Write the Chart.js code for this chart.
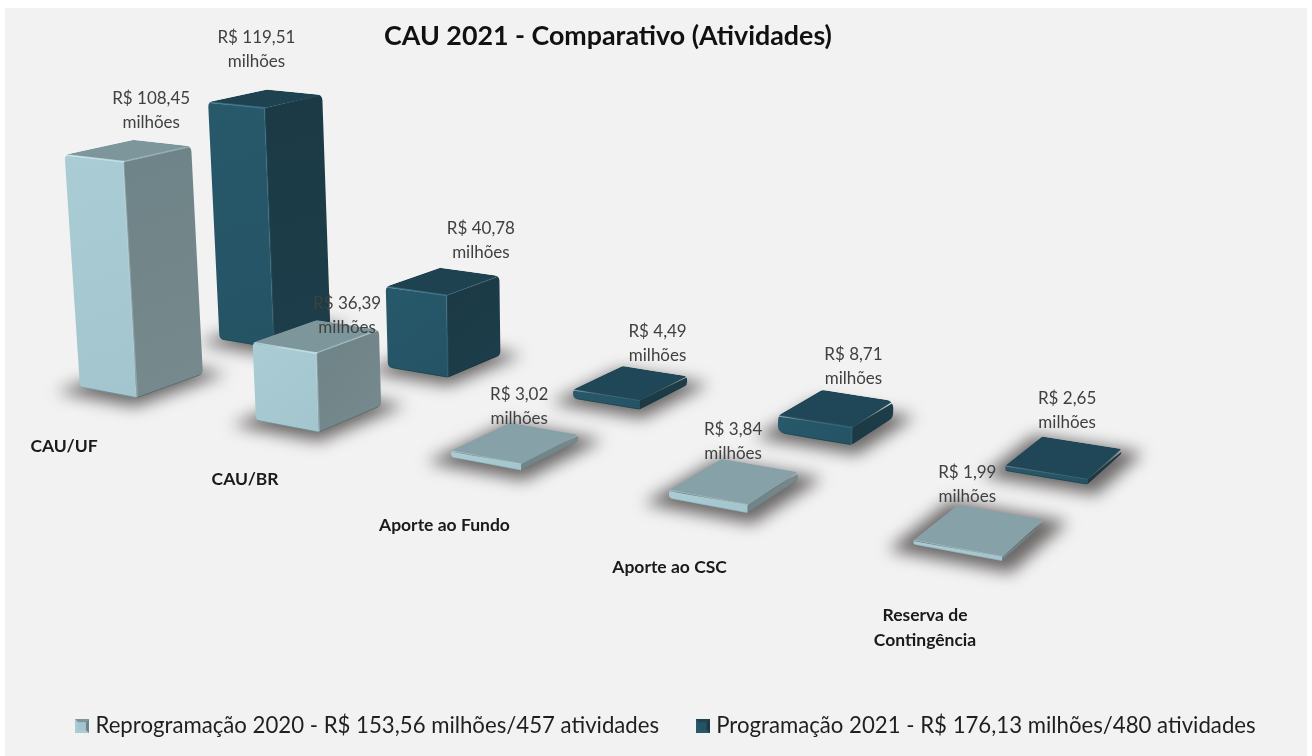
<!DOCTYPE html>
<html><head><meta charset="utf-8">
<style>html,body{margin:0;padding:0;background:#fff}canvas{display:block}</style>
<script src="https://cdn.jsdelivr.net/npm/chart.js@4/dist/chart.umd.min.js"></script>
</head><body>
<div style="width:1312px;height:756px"><canvas id="c" width="1312" height="756"></canvas></div>
<script>
// ---- data ----
const categories = ['CAU/UF', 'CAU/BR', 'Aporte ao Fundo', 'Aporte ao CSC', ['Reserva de', 'Contingência']];
const reprogramacao2020 = [108.45, 36.39, 3.02, 3.84, 1.99];
const programacao2021 = [119.51, 40.78, 4.49, 8.71, 2.65];
const legendLabels = ['Reprogramação 2020 - R$ 153,56 milhões/457 atividades', 'Programação 2021 - R$ 176,13 milhões/480 atividades'];
const titleText = 'CAU 2021 - Comparativo (Atividades)';

// ---- 3D look ----
const floorMatrix = {xp:664.6, xv:160.5, x0:137, yp:50.8, yv:-20, y0:398, wp:-0.2, wv:0.085};
const barLenU = 0.335, barLenV = 0.46;
const depthScale = [1.04, 0.96];
const vanishX = 600, vanishDist = 8000, topFlatten = 0.0015;
const palette = [
  {front:'#a9ccd5', frontLo:'#a2c5ce', side:'#6f8488', sideLo:'#76898d', top:'#7c969c', topThin:'#86a1a7', rim:'#c9e6ed', rimSide:0.3},
  {front:'#27596b', frontLo:'#245364', side:'#1b3a46', sideLo:'#1c3d49', top:'#1e4250', topThin:'#1f4757', rim:'#3b7387', rimSide:0.1}
];
const labelOffsets = [
  [[23,-52],[31,-33],[4,-49],[-1,-52],[-12,-58]],
  [[-9,-61],[38,-53],[27,-52],[17,-54],[3,-59]]
];
const catLabelOffsets = [[-73,48],[-74,47],[-77,55],[-78,54],[-77,67]];
const FONT = 'Lato';

const lastCat = categories.length-1;
const floorPt = (u,v)=>{
  const m=floorMatrix, p=u/lastCat, w=m.wp*p+m.wv*v+1;
  return [(m.xp*p+m.xv*v+m.x0)/w,(m.yp*p+m.yv*v+m.y0)/w];
};
function geometry(c,s,H){
  const v0=s, v1=s+barLenV, u1=c, u0=c-barLenU;
  const F=floorPt(u1,v0), L=floorPt(u0,v0), R=floorPt(u1,v1), B=floorPt(u0,v1);
  const flat=1-topFlatten*H;
  const up=p=>[p[0]+(p[0]-vanishX)*H/vanishDist, F[1]-H+(p[1]-F[1])*flat];
  return {F,L,R,B,Ft:up(F),Lt:up(L),Rt:up(R),Bt:up(B)};
}
function poly(ctx,pts){ctx.beginPath();pts.forEach((p,i)=>i?ctx.lineTo(p[0],p[1]):ctx.moveTo(p[0],p[1]));ctx.closePath();}
function roundPoly(ctx,pts,r){
  ctx.beginPath();
  const n=pts.length, m=(a,b)=>[(a[0]+b[0])/2,(a[1]+b[1])/2];
  const s=m(pts[n-1],pts[0]);ctx.moveTo(s[0],s[1]);
  for(let i=0;i<n;i++){const a=pts[i],b=pts[(i+1)%n],q=m(a,b);ctx.arcTo(a[0],a[1],q[0],q[1],r);ctx.lineTo(q[0],q[1]);}
  ctx.closePath();
}
function barH(el){ return Math.abs(el.base-el.y); }
const layer=document.createElement('canvas');layer.width=1312;layer.height=756;
function drawBar(target,g,s,H){
  const ctx=layer.getContext('2d');
  ctx.clearRect(0,0,1312,756);
  const col=palette[s], thin=H<12, tall=H>30;
  const r=thin?Math.max(1.5,H*0.55):(H<25?8:6);
  ctx.save();
  roundPoly(ctx,[g.L,g.F,g.R,g.Rt,g.Bt,g.Lt],r);
  ctx.clip();
  let gr=ctx.createLinearGradient(g.Lt[0],g.Lt[1],g.F[0],g.F[1]);
  gr.addColorStop(0,col.front);gr.addColorStop(1,col.frontLo);
  ctx.fillStyle=gr;
  poly(ctx,[[g.L[0]-6,g.L[1]+8],[g.F[0],g.F[1]+8],g.Ft,[g.Lt[0]-6,g.Lt[1]]]);ctx.fill();
  gr=ctx.createLinearGradient(g.Ft[0],g.Ft[1],g.R[0],g.R[1]);
  gr.addColorStop(0,col.side);gr.addColorStop(1,col.sideLo);
  ctx.fillStyle=gr;
  poly(ctx,[[g.F[0],g.F[1]+8],[g.R[0]+6,g.R[1]+8],[g.Rt[0]+6,g.Rt[1]-2],g.Ft]);ctx.fill();
  ctx.fillStyle=tall?col.top:col.topThin;
  poly(ctx,[g.Lt,g.Ft,g.Rt,g.Bt]);ctx.fill();
  ctx.lineCap='round';
  ctx.strokeStyle=col.rim;ctx.lineWidth=thin?1:1.8;ctx.globalAlpha=tall?.75:.45;
  ctx.beginPath();ctx.moveTo(g.Lt[0],g.Lt[1]);ctx.lineTo(g.Ft[0],g.Ft[1]);ctx.stroke();
  ctx.globalAlpha=tall?col.rimSide:col.rimSide/2;
  ctx.beginPath();ctx.moveTo(g.Ft[0],g.Ft[1]);ctx.lineTo(g.Rt[0],g.Rt[1]);ctx.stroke();
  if(!thin){ctx.globalAlpha=.3;ctx.lineWidth=2;ctx.beginPath();ctx.moveTo(g.Ft[0],g.Ft[1]);ctx.lineTo(g.F[0],g.F[1]);ctx.stroke();}
  ctx.globalAlpha=thin&&s===0?.1:.35;ctx.strokeStyle='#0f2730';ctx.lineWidth=1.4;
  ctx.beginPath();ctx.moveTo(g.L[0],g.L[1]);ctx.lineTo(g.F[0],g.F[1]);ctx.lineTo(g.R[0],g.R[1]);ctx.stroke();
  ctx.restore();
  target.save();
  target.filter='blur(0.7px)';
  target.drawImage(layer,0,0);
  target.restore();
}
const perBar=(chart,fn)=>{
  [1,0].forEach(s=>{chart.getDatasetMeta(s).data.forEach((el,c)=>fn(el,c,s));});
};
const heightOf=(el,s)=>barH(el)*depthScale[s];

const scene3d={
  id:'scene3d',
  afterLayout(chart){
    chart.titleBlock.left=0; chart.titleBlock.right=1216;
    const l=chart.legend; const h=l.bottom-l.top; l.top=674; l.bottom=674+h;
  },
  beforeDraw(chart){
    const ctx=chart.ctx;
    ctx.save();ctx.fillStyle='#ffffff';ctx.fillRect(0,0,1312,756);
    ctx.fillStyle='#f2f2f2';ctx.fillRect(5,8,1302,748);ctx.restore();
  },
  beforeDatasetsDraw(chart){
    const ctx=chart.ctx;
    perBar(chart,(el,c,s)=>{
      const g=geometry(c,s,0);
      const pts=[g.L,g.F,g.R,g.B];
      const cx=pts.reduce((a,p)=>a+p[0],0)/4, cy=pts.reduce((a,p)=>a+p[1],0)/4;
      ctx.save();
      ctx.filter='blur(8px)';ctx.fillStyle='rgba(55,50,50,.72)';
      poly(ctx,pts.map(p=>[cx+(p[0]-cx)*1.38,cy+(p[1]-cy)*1.38+2]));ctx.fill();
      ctx.restore();
    });
  },
  beforeDatasetDraw(chart,args){
    const s=args.index, ctx=chart.ctx;
    args.meta.data.forEach((el,c)=>{
      const H=heightOf(el,s);
      drawBar(ctx,geometry(c,s,H),s,H);
    });
    return false;
  },
  afterDatasetsDraw(chart){
    const ctx=chart.ctx;
    ctx.save();
    ctx.textAlign='center';ctx.textBaseline='middle';
    ctx.font='17px '+FONT;ctx.fillStyle='#404040';
    perBar(chart,(el,c,s)=>{
      const g=geometry(c,s,heightOf(el,s));
      const tx=(g.Lt[0]+g.Rt[0]+g.Ft[0]+g.Bt[0])/4, ty=(g.Lt[1]+g.Rt[1]+g.Ft[1]+g.Bt[1])/4;
      const off=labelOffsets[s][c], val=chart.data.datasets[s].data[c];
      ctx.fillText('R$ '+val.toFixed(2).replace('.',','),tx+off[0],ty+off[1]);
      ctx.fillText('milhões',tx+off[0],ty+off[1]+24);
    });
    ctx.font='bold 17.5px '+FONT;ctx.fillStyle='#1a1a1a';
    categories.forEach((lab,c)=>{
      const p=floorPt(c,0), o=catLabelOffsets[c], lines=[].concat(lab);
      lines.forEach((t,i)=>ctx.fillText(t,p[0]+o[0],p[1]+o[1]+(i-(lines.length-1)/2)*25));
    });
    ctx.restore();
  }
};

function legendMark(col){
  const k=document.createElement('canvas');k.width=14;k.height=14;
  const x=k.getContext('2d');
  x.fillStyle=col.front;x.fillRect(0,0,14,14);
  x.fillStyle=col.top;x.beginPath();x.moveTo(0,0);x.lineTo(14,0);x.lineTo(11,3);x.lineTo(3,3);x.fill();
  x.fillStyle=col.side;x.beginPath();x.moveTo(14,0);x.lineTo(14,14);x.lineTo(11,11);x.lineTo(11,3);x.fill();
  x.fillStyle=col.frontLo;x.fillRect(3,3,8,8);
  return k;
}
const marks=palette.map(legendMark);

new Chart(document.getElementById('c'),{
  type:'bar',
  data:{
    labels:categories,
    datasets:[
      {label:legendLabels[0],data:reprogramacao2020,backgroundColor:palette[0].front},
      {label:legendLabels[1],data:programacao2021,backgroundColor:palette[1].front}
    ]
  },
  plugins:[scene3d],
  options:{
    responsive:false,animation:false,
    layout:{padding:{top:8,left:23,right:0,bottom:0}},
    scales:{
      x:{display:false},
      y:{display:false,min:0,max:301}
    },
    plugins:{
      tooltip:{enabled:false},
      title:{display:true,text:titleText,color:'#111111',font:{family:FONT,size:26.8,weight:'bold'},padding:{top:12,bottom:0}},
      legend:{
        position:'bottom',
        labels:{
          color:'#1f1f1f',font:{family:FONT,size:22.2},padding:41,boxWidth:5,boxHeight:5,usePointStyle:true,
          generateLabels(chart){
            return chart.data.datasets.map((d,i)=>({text:d.label,pointStyle:marks[i],fillStyle:d.backgroundColor,strokeStyle:'transparent',lineWidth:0,datasetIndex:i,fontColor:'#1f1f1f'}));
          }
        }
      }
    }
  }
});
</script>
</body></html>
